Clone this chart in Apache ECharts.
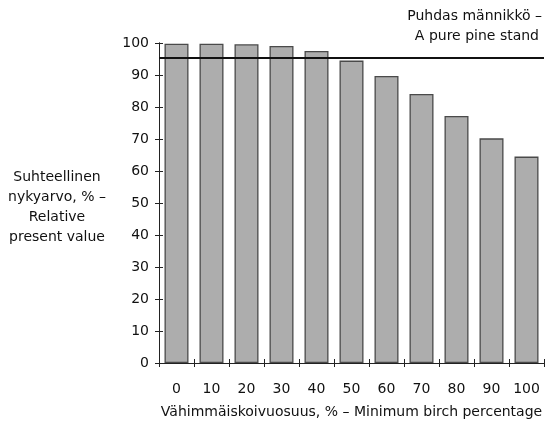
<!DOCTYPE html>
<html><head><meta charset="utf-8">
<script src="https://cdn.jsdelivr.net/npm/echarts@6/dist/echarts.min.js"></script>
<style>html,body{margin:0;padding:0;background:#fff}#c{width:547px;height:424px}</style>
</head><body><div id="c"></div>
<script>
const categories = ['0','10','20','30','40','50','60','70','80','90','100'];
const values = [99.8, 99.8, 99.6, 99.1, 97.5, 94.5, 89.7, 84.1, 77.2, 70.2, 64.5];
const pureStand = 95.5;
const yTicks = [0,10,20,30,40,50,60,70,80,90,100];
const refLabel = ['Puhdas männikkö –', 'A pure pine stand'];
const yTitle = ['Suhteellinen', 'nykyarvo, % –', 'Relative', 'present value'];
const xTitle = 'Vähimmäiskoivuosuus, % – Minimum birch percentage';

const FONT = 'DejaVu Sans';
const TXT = '#111';
const chart = echarts.init(document.getElementById('c'), null, {renderer:'canvas'});
const axisCol = '#222';
const baseX = {
  type:'category', data:categories, boundaryGap:true,
  axisLine:{show:true, lineStyle:{color:axisCol, width:1}},
};
const baseY = {
  type:'value', min:0, max:100, interval:10,
  splitLine:{show:false},
  axisLine:{show:true, lineStyle:{color:axisCol, width:1}},
};
function txt(text, x, y, align){
  return {type:'text', x:x, y:y, silent:true,
    style:{text:text, fill:TXT, font:'14px "DejaVu Sans"', textAlign:align, textVerticalAlign:'middle'}};
}
chart.setOption({
  animation:false,
  textStyle:{fontFamily:FONT},
  graphic:[
    txt(refLabel[0], 542, 16, 'right'),
    txt(refLabel[1], 539, 36, 'right'),
    txt(yTitle[0], 57, 177, 'center'),
    txt(yTitle[1], 57, 197, 'center'),
    txt(yTitle[2], 57, 217, 'center'),
    txt(yTitle[3], 57, 237, 'center')
  ],
  grid:{left:159, right:3, top:43, bottom:57},
  xAxis:[
    Object.assign({}, baseX, {
      axisTick:{show:true, length:4, lineStyle:{color:axisCol}},
      axisLabel:{fontFamily:FONT, fontSize:14, color:TXT, margin:19},
      name:xTitle,
      nameLocation:'middle', nameGap:42,
      nameTextStyle:{fontFamily:FONT, fontSize:14, color:TXT}
    }),
    Object.assign({}, baseX, {
      position:'bottom',
      axisTick:{show:true, inside:true, length:4, lineStyle:{color:axisCol}},
      axisLabel:{show:false}
    })
  ],
  yAxis:[
    Object.assign({}, baseY, {
      axisTick:{show:true, length:4, lineStyle:{color:axisCol}},
      axisLabel:{fontFamily:FONT, fontSize:14, color:TXT, margin:10,
        formatter: v => yTicks.includes(v) ? String(v) : ''}
    }),
    Object.assign({}, baseY, {
      position:'left',
      axisTick:{show:true, inside:true, length:4, lineStyle:{color:axisCol}},
      axisLabel:{show:false}
    })
  ],
  series:[{
    type:'bar', data:values, barWidth:24, xAxisIndex:0, yAxisIndex:0,
    itemStyle:{color:'#adadad', borderColor:'#4a4a4a', borderWidth:1.3},
    markLine:{
      silent:true, symbol:['none','none'], label:{show:false},
      lineStyle:{color:'#111', width:2, type:'solid'},
      data:[{yAxis:pureStand}]
    }
  }]
});
</script></body></html>
